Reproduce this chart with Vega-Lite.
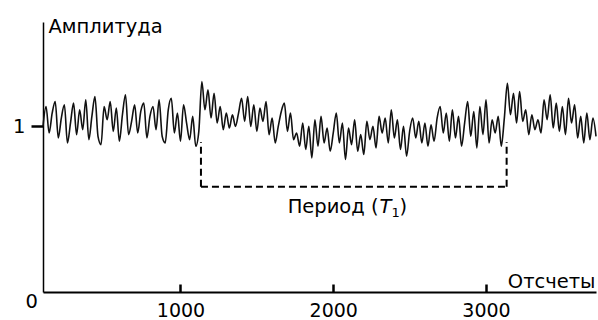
{
  "$schema": "https://vega.github.io/schema/vega-lite/v6.json",
  "width": 553,
  "height": 270,
  "autosize": {"type": "none"},
  "padding": {"left": 43, "top": 22, "right": 2, "bottom": 28},
  "background": "white",
  "config": {
    "view": {"stroke": null},
    "font": "DejaVu Sans",
    "axis": {"grid": false, "domainColor": "black", "tickColor": "black", "labelColor": "black", "titleColor": "black", "labelFont": "DejaVu Sans", "titleFont": "DejaVu Sans", "titleFontWeight": "normal"}
  },
  "datasets": {
    "signal": [
      {"x":100,"y":1.00},{"x":120,"y":1.12},{"x":140,"y":0.96},{"x":160,"y":1.08},{"x":180,"y":1.15},{"x":200,"y":0.93},{"x":220,"y":1.05},{"x":240,"y":1.13},{"x":260,"y":0.90},{"x":280,"y":1.02},
      {"x":300,"y":1.14},{"x":320,"y":0.95},{"x":340,"y":1.10},{"x":360,"y":0.98},{"x":380,"y":1.16},{"x":400,"y":0.92},{"x":420,"y":1.06},{"x":440,"y":1.18},{"x":460,"y":0.94},{"x":480,"y":0.89},
      {"x":500,"y":1.12},{"x":520,"y":1.04},{"x":540,"y":1.15},{"x":560,"y":0.97},{"x":580,"y":1.11},{"x":600,"y":0.91},{"x":620,"y":1.07},{"x":640,"y":1.19},{"x":660,"y":0.95},{"x":680,"y":1.03},
      {"x":700,"y":1.13},{"x":720,"y":0.96},{"x":740,"y":1.09},{"x":760,"y":1.14},{"x":780,"y":0.93},{"x":800,"y":1.06},{"x":820,"y":1.12},{"x":840,"y":0.98},{"x":860,"y":1.16},{"x":880,"y":0.94},
      {"x":900,"y":0.90},{"x":920,"y":1.10},{"x":940,"y":1.17},{"x":960,"y":0.96},{"x":980,"y":1.08},{"x":1000,"y":0.91},{"x":1020,"y":1.13},{"x":1040,"y":1.02},{"x":1060,"y":0.92},{"x":1080,"y":1.06},
      {"x":1100,"y":0.88},{"x":1120,"y":0.97},{"x":1140,"y":1.27},{"x":1160,"y":1.10},{"x":1180,"y":1.22},{"x":1200,"y":1.05},{"x":1220,"y":1.20},{"x":1240,"y":1.02},{"x":1260,"y":1.12},{"x":1280,"y":0.98},
      {"x":1300,"y":1.08},{"x":1320,"y":0.99},{"x":1340,"y":1.07},{"x":1360,"y":1.00},{"x":1380,"y":1.08},{"x":1400,"y":1.17},{"x":1420,"y":1.03},{"x":1440,"y":1.18},{"x":1460,"y":1.00},{"x":1480,"y":1.13},
      {"x":1500,"y":0.97},{"x":1520,"y":1.11},{"x":1540,"y":1.03},{"x":1560,"y":1.15},{"x":1580,"y":0.95},{"x":1600,"y":1.05},{"x":1620,"y":0.90},{"x":1640,"y":1.00},{"x":1660,"y":1.09},{"x":1680,"y":1.14},
      {"x":1700,"y":0.97},{"x":1720,"y":1.08},{"x":1740,"y":0.92},{"x":1760,"y":0.96},{"x":1780,"y":0.88},{"x":1800,"y":1.02},{"x":1820,"y":0.86},{"x":1840,"y":1.00},{"x":1860,"y":0.81},{"x":1880,"y":1.04},
      {"x":1900,"y":0.88},{"x":1920,"y":1.06},{"x":1940,"y":0.90},{"x":1960,"y":0.99},{"x":1980,"y":0.85},{"x":2000,"y":0.96},{"x":2020,"y":1.08},{"x":2040,"y":0.90},{"x":2060,"y":1.02},{"x":2080,"y":0.80},
      {"x":2100,"y":0.99},{"x":2120,"y":0.89},{"x":2140,"y":1.04},{"x":2160,"y":0.85},{"x":2180,"y":0.95},{"x":2200,"y":0.83},{"x":2220,"y":1.03},{"x":2240,"y":0.92},{"x":2260,"y":1.00},{"x":2280,"y":0.87},
      {"x":2300,"y":1.06},{"x":2320,"y":0.96},{"x":2340,"y":1.05},{"x":2360,"y":0.90},{"x":2380,"y":1.10},{"x":2400,"y":0.93},{"x":2420,"y":1.04},{"x":2440,"y":0.86},{"x":2460,"y":1.00},{"x":2480,"y":0.82},
      {"x":2500,"y":0.97},{"x":2520,"y":1.05},{"x":2540,"y":0.93},{"x":2560,"y":1.03},{"x":2580,"y":0.90},{"x":2600,"y":1.02},{"x":2620,"y":0.88},{"x":2640,"y":1.01},{"x":2660,"y":0.91},{"x":2680,"y":1.05},
      {"x":2700,"y":1.12},{"x":2720,"y":0.96},{"x":2740,"y":1.08},{"x":2760,"y":0.91},{"x":2780,"y":1.10},{"x":2800,"y":0.93},{"x":2820,"y":1.06},{"x":2840,"y":0.88},{"x":2860,"y":1.02},{"x":2880,"y":1.15},
      {"x":2900,"y":0.94},{"x":2920,"y":1.09},{"x":2940,"y":0.87},{"x":2960,"y":1.12},{"x":2980,"y":0.95},{"x":3000,"y":1.16},{"x":3020,"y":0.90},{"x":3040,"y":1.04},{"x":3060,"y":0.96},{"x":3080,"y":1.06},
      {"x":3100,"y":0.88},{"x":3120,"y":1.05},{"x":3140,"y":1.26},{"x":3160,"y":1.07},{"x":3180,"y":1.20},{"x":3200,"y":1.02},{"x":3220,"y":1.21},{"x":3240,"y":1.03},{"x":3260,"y":1.10},{"x":3280,"y":0.95},
      {"x":3300,"y":1.07},{"x":3320,"y":0.98},{"x":3340,"y":1.04},{"x":3360,"y":0.96},{"x":3380,"y":1.16},{"x":3400,"y":1.04},{"x":3420,"y":1.19},{"x":3440,"y":0.99},{"x":3460,"y":1.14},{"x":3480,"y":0.97},
      {"x":3500,"y":1.12},{"x":3520,"y":0.95},{"x":3540,"y":1.17},{"x":3560,"y":1.02},{"x":3580,"y":1.13},{"x":3600,"y":0.93},{"x":3620,"y":1.06},{"x":3640,"y":0.90},{"x":3660,"y":1.08},{"x":3680,"y":0.92},
      {"x":3700,"y":1.05},{"x":3720,"y":0.94}
    ],
    "bracketH": [{"x": 1134, "x2": 3135, "y": 0.636}],
    "bracketV": [{"x": 1134, "y": 0.636, "y2": 0.905}, {"x": 3135, "y": 0.636, "y2": 0.905}],
    "label": [{"x": 2120, "y": 0.478}]
  },
  "layer": [
    {
      "data": {"name": "signal"},
      "mark": {"type": "line", "color": "#111111", "strokeWidth": 1.6, "interpolate": "monotone"},
      "encoding": {
        "x": {
          "field": "x", "type": "quantitative",
          "scale": {"domain": [100, 3720], "nice": false, "zero": false},
          "axis": {
            "values": [1000, 2000, 3000],
            "format": "d",
            "title": "Отсчеты",
            "titleFontSize": 19.5,
            "titleAnchor": "end",
            "titleAlign": "right",
            "titleBaseline": "alphabetic",
            "titleX": 552,
            "titleY": -5,
            "labelFontSize": 19,
            "labelBaseline": "top",
            "tickSize": -8,
            "tickWidth": 2.5,
            "labelPadding": 17,
            "domainWidth": 2
          }
        },
        "y": {
          "field": "y", "type": "quantitative",
          "scale": {"domain": [0, 1.63], "nice": false, "zero": true},
          "axis": {
            "values": [0, 1],
            "format": "d",
            "title": "Амплитуда",
            "titleAngle": 0,
            "titleFontSize": 19.5,
            "titleAlign": "left",
            "titleBaseline": "alphabetic",
            "titleX": 5,
            "titleY": 10,
            "labelFontSize": 19.5,
            "tickSize": 12,
            "tickWidth": 2.5,
            "tickColor": {"condition": {"test": "datum.value === 0", "value": "transparent"}, "value": "black"},
            "labelAlign": {"condition": {"test": "datum.value === 0", "value": "left"}, "value": "right"},
            "labelBaseline": {"condition": {"test": "datum.value === 0", "value": "top"}, "value": "middle"},
            "labelPadding": 6,
            "domainWidth": 1.5
          }
        }
      }
    },
    {
      "data": {"name": "bracketH"},
      "mark": {"type": "rule", "color": "black", "strokeWidth": 2, "strokeDash": [7, 4]},
      "encoding": {
        "x": {"field": "x", "type": "quantitative"},
        "x2": {"field": "x2"},
        "y": {"field": "y", "type": "quantitative"}
      }
    },
    {
      "data": {"name": "bracketV"},
      "mark": {"type": "rule", "color": "black", "strokeWidth": 2, "strokeDash": [7, 4]},
      "encoding": {
        "x": {"field": "x", "type": "quantitative"},
        "y": {"field": "y", "type": "quantitative"},
        "y2": {"field": "y2"}
      }
    },
    {
      "data": {"name": "label"},
      "mark": {"type": "text", "text": "Период (", "align": "right", "baseline": "alphabetic", "fontSize": 19.5, "color": "black", "dx": 27},
      "encoding": {"x": {"field": "x", "type": "quantitative"}, "y": {"field": "y", "type": "quantitative"}}
    },
    {
      "data": {"name": "label"},
      "mark": {"type": "text", "text": "T", "align": "left", "baseline": "alphabetic", "fontSize": 19.5, "fontStyle": "italic", "color": "black", "dx": 28},
      "encoding": {"x": {"field": "x", "type": "quantitative"}, "y": {"field": "y", "type": "quantitative"}}
    },
    {
      "data": {"name": "label"},
      "mark": {"type": "text", "text": "1", "align": "left", "baseline": "alphabetic", "fontSize": 13, "color": "black", "dx": 40, "dy": 4},
      "encoding": {"x": {"field": "x", "type": "quantitative"}, "y": {"field": "y", "type": "quantitative"}}
    },
    {
      "data": {"name": "label"},
      "mark": {"type": "text", "text": ")", "align": "left", "baseline": "alphabetic", "fontSize": 19.5, "color": "black", "dx": 48},
      "encoding": {"x": {"field": "x", "type": "quantitative"}, "y": {"field": "y", "type": "quantitative"}}
    }
  ]
}
